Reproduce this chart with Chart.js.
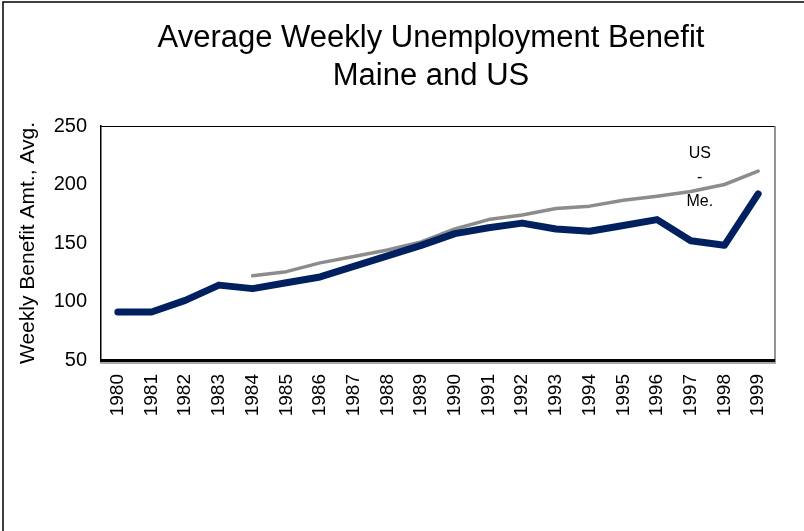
<!DOCTYPE html>
<html>
<head>
<meta charset="utf-8">
<script src="https://cdn.jsdelivr.net/npm/chart.js@4.4.1/dist/chart.umd.min.js"></script>
<style>
  html, body { margin: 0; padding: 0; background: #fff; }
  #wrap { width: 804px; height: 531px; position: relative; }
</style>
</head>
<body>
<div id="wrap"><canvas id="c" width="804" height="531"></canvas></div>
<script>
// Average weekly unemployment benefit, dollars
const years = ['1980','1981','1982','1983','1984','1985','1986','1987','1988','1989',
               '1990','1991','1992','1993','1994','1995','1996','1997','1998','1999'];
const maine = [91, 91, 101, 114, 111, 116, 121, 130, 139, 148,
               158, 163, 167, 162, 160, 165, 170, 152, 148, 192];
const us = [null, null, null, null, 122, 125.5, 133, 138.5, 144, 151,
            162, 170, 174, 179.5, 181.5, 186.5, 190, 194, 200, 211.5];
const yTicks = [50, 100, 150, 200, 250];
const titleLines = ['Average Weekly Unemployment Benefit', 'Maine and US'];

const FONT = "'Liberation Sans', Arial, sans-serif";

// outer frame lines, title, plot box and the "US - Me." note
const framePlugin = {
  id: 'frame',
  beforeDraw(chart) {
    const ctx = chart.ctx;
    ctx.save();
    ctx.fillStyle = '#fff';
    ctx.fillRect(0, 0, chart.width, chart.height);
    ctx.strokeStyle = '#000';
    ctx.lineWidth = 1.5;
    ctx.beginPath();
    ctx.moveTo(3, chart.height);
    ctx.lineTo(3, 2);
    ctx.lineTo(chart.width, 2);
    ctx.stroke();
    // chart title
    ctx.fillStyle = '#000';
    ctx.font = '31px ' + FONT;
    ctx.textAlign = 'center';
    ctx.textBaseline = 'alphabetic';
    ctx.fillText(titleLines[0], 431, 47);
    ctx.fillText(titleLines[1], 431, 85);
    ctx.restore();
  },
  beforeDatasetsDraw(chart) {
    const { ctx, chartArea: a } = chart;
    ctx.save();
    // top edge
    ctx.strokeStyle = '#000';
    ctx.lineWidth = 1;
    ctx.beginPath();
    ctx.moveTo(a.left, a.top + 0.5);
    ctx.lineTo(a.right, a.top + 0.5);
    ctx.stroke();
    // right edge
    ctx.strokeStyle = '#707070';
    ctx.lineWidth = 1.5;
    ctx.beginPath();
    ctx.moveTo(a.right, a.top);
    ctx.lineTo(a.right, a.bottom + 3);
    ctx.stroke();
    // bottom shadow
    ctx.strokeStyle = '#a8a8a8';
    ctx.lineWidth = 2;
    ctx.beginPath();
    ctx.moveTo(a.left - 1, a.bottom + 3);
    ctx.lineTo(a.right + 1, a.bottom + 3);
    ctx.stroke();
    // heavy bottom edge
    ctx.strokeStyle = '#000';
    ctx.lineWidth = 3;
    ctx.beginPath();
    ctx.moveTo(a.left - 1, a.bottom + 0.5);
    ctx.lineTo(a.right, a.bottom + 0.5);
    ctx.stroke();
    ctx.restore();
  },
  afterDraw(chart) {
    const ctx = chart.ctx;
    const x = chart.scales.x.getPixelForValue(17) + 9;
    ctx.save();
    ctx.fillStyle = '#000';
    ctx.font = '16px ' + FONT;
    ctx.textAlign = 'center';
    ctx.textBaseline = 'alphabetic';
    ctx.fillText('US', x, 158);
    ctx.fillText('-', x, 182);
    ctx.fillText('Me.', x, 206);
    ctx.restore();
  }
};

new Chart(document.getElementById('c'), {
  type: 'line',
  data: {
    labels: years,
    datasets: [
      {
        label: 'Me.',
        data: maine,
        borderColor: '#002060',
        borderWidth: 7,
        borderCapStyle: 'round',
        borderJoinStyle: 'round',
        pointRadius: 0,
        tension: 0,
        fill: false
      },
      {
        label: 'US',
        data: us,
        borderColor: '#8c8c8c',
        borderWidth: 3.5,
        borderCapStyle: 'round',
        borderJoinStyle: 'round',
        pointRadius: 0,
        tension: 0,
        fill: false
      }
    ]
  },
  options: {
    responsive: false,
    animation: false,
    devicePixelRatio: 1,
    layout: { padding: { left: 5, right: 29, top: 126, bottom: 0 } },
    plugins: {
      legend: { display: false },
      tooltip: { enabled: false },
      title: { display: false }
    },
    scales: {
      x: {
        offset: true,
        grid: { display: false, drawTicks: false },
        border: { display: false },
        ticks: {
          color: '#000',
          font: { family: FONT, size: 19 },
          minRotation: 90,
          maxRotation: 90,
          autoSkip: false,
          padding: 14
        },
        afterFit(scale) { scale.height = 171; }
      },
      y: {
        min: 50,
        max: 250,
        afterBuildTicks(scale) { scale.ticks = yTicks.map(v => ({ value: v })); },
        grid: { display: false, drawTicks: false },
        border: { display: true, color: '#000', width: 1.5 },
        ticks: {
          color: '#000',
          font: { family: FONT, size: 20 },
          padding: 14
        },
        title: {
          display: true,
          text: 'Weekly Benefit Amt., Avg.',
          color: '#000',
          font: { family: FONT, size: 21 },
          padding: { top: 11, bottom: 0 }
        },
        afterFit(scale) { scale.width = 96; }
      }
    }
  },
  plugins: [framePlugin]
});
</script>
</body>
</html>
